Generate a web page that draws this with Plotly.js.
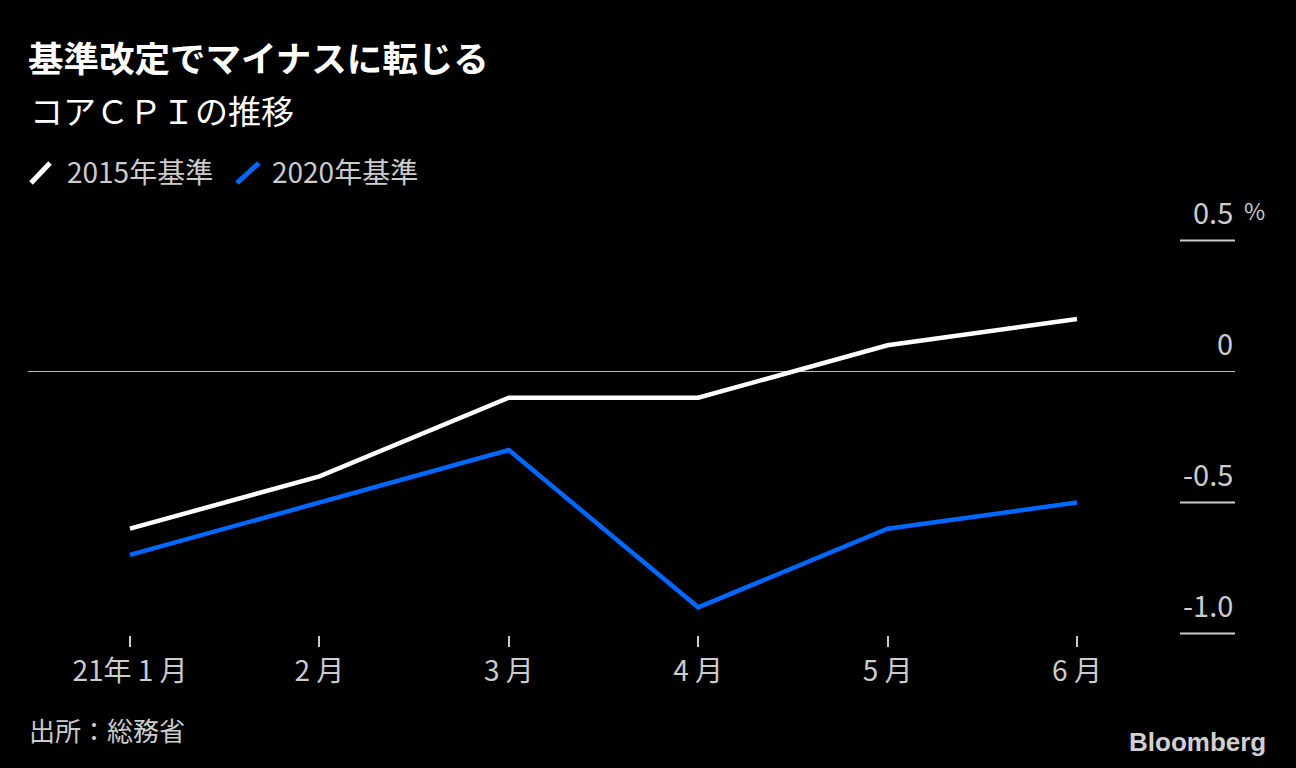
<!DOCTYPE html>
<html>
<head>
<meta charset="utf-8">
<script src="https://cdn.plot.ly/plotly-3.0.1.min.js"></script>
<style>
  html, body { margin: 0; padding: 0; background: #000; }
  #chart { width: 1296px; height: 768px; }
</style>
</head>
<body>
<div id="chart"></div>
<script>
// ---- data ----
const months = ['21年 1 月', '2 月', '3 月', '4 月', '5 月', '6 月'];
const base2015 = [-0.6, -0.4, -0.1, -0.1, 0.1, 0.2];
const base2020 = [-0.7, -0.5, -0.3, -0.9, -0.6, -0.5];
const seriesNames = ['2015年基準', '2020年基準'];
const yTickValues = [0.5, 0, -0.5, -1.0];
const yTickLabels = ['0.5', '0', '-0.5', '-1.0'];
const yUnit = '%';
const titleText = '基準改定でマイナスに転じる';
const subtitleText = 'コアＣＰＩの推移';
const sourceText = '出所：総務省';
const logoText = 'Bloomberg';

// ---- layout helpers ----
const W = 1296, H = 768;
const M = { l: 28, r: 61, t: 200, b: 133 };
const PW = W - M.l - M.r, PH = H - M.t - M.b;
const px = x => (x - M.l) / PW;
const py = y => (H - M.b - y) / PH;

const FONT = '"Noto Sans CJK JP", "Noto Sans", sans-serif';
const white = '#ffffff';
const blue = '#0068ff';
const grey = '#cccccc';
const colors = [white, blue];

const traces = [base2015, base2020].map((vals, i) => ({
  type: 'scatter', mode: 'lines',
  x: months, y: vals, name: seriesNames[i],
  line: { color: colors[i], width: 4.5 },
  hoverinfo: 'skip', showlegend: false
}));

const shapes = [];
const annotations = [];

// y tick short lines + labels (zero uses the zero line)
yTickValues.forEach((v, i) => {
  if (v !== 0) {
    shapes.push({ type: 'line', xref: 'paper', yref: 'y', x0: px(1180), x1: 1, y0: v, y1: v,
      line: { color: grey, width: 2 } });
  }
  annotations.push({ xref: 'paper', yref: 'y', x: 1, y: v, yshift: 30,
    xanchor: 'right', yanchor: 'middle', showarrow: false, text: yTickLabels[i],
    font: { family: FONT, size: 29, color: grey } });
});
annotations.push({ xref: 'paper', yref: 'y', x: px(1242), y: yTickValues[0], yshift: 31,
  xanchor: 'left', yanchor: 'middle', showarrow: false, text: yUnit,
  font: { family: FONT, size: 23, color: grey } });

// legend (custom, diagonal line icons)
const legendIcons = [[31, 50], [237, 259]];
const legendTextX = [65, 270];
seriesNames.forEach((name, i) => {
  shapes.push({ type: 'line', xref: 'paper', yref: 'paper',
    x0: px(legendIcons[i][0]), x1: px(legendIcons[i][1]), y0: py(183), y1: py(163),
    line: { color: colors[i], width: 5 } });
  annotations.push({ xref: 'paper', yref: 'paper', x: px(legendTextX[i]), y: py(171),
    xanchor: 'left', yanchor: 'middle', showarrow: false, text: name,
    font: { family: FONT, size: 28, color: grey } });
});

// subtitle, source, logo
annotations.push({ xref: 'paper', yref: 'paper', x: px(28), y: py(110),
  xanchor: 'left', yanchor: 'middle', showarrow: false, text: subtitleText,
  font: { family: FONT, size: 33, color: white } });
annotations.push({ xref: 'paper', yref: 'paper', x: px(27), y: py(729),
  xanchor: 'left', yanchor: 'middle', showarrow: false, text: sourceText,
  font: { family: FONT, size: 26, color: grey } });
annotations.push({ xref: 'paper', yref: 'paper', x: px(1268), y: py(742),
  xanchor: 'right', yanchor: 'middle', showarrow: false, text: logoText,
  font: { family: '"Liberation Sans", Arial, sans-serif', size: 26, color: '#d0d0d0', weight: 700 } });

const layout = {
  width: W, height: H,
  paper_bgcolor: '#000', plot_bgcolor: '#000',
  margin: M,
  showlegend: false,
  title: {
    text: '<b>' + titleText + '</b>',
    xref: 'container', yref: 'container', x: 28 / W, y: 1 - 60 / H,
    xanchor: 'left', yanchor: 'middle',
    font: { family: FONT, size: 35.5, color: white }
  },
  xaxis: {
    type: 'category',
    range: [-(130 - 28) / 189.4, 5 + (1235 - 1077) / 189.4],
    showgrid: false, zeroline: false, showline: false,
    ticks: 'outside', ticklen: 11, tickwidth: 2, tickcolor: grey,
    tickfont: { family: FONT, size: 28, color: grey },
    fixedrange: true
  },
  yaxis: {
    range: [(371.5 - 635) / 262, (371.5 - 200) / 262],
    showgrid: false, showticklabels: false, ticks: '', showline: false,
    zeroline: true, zerolinecolor: '#bbbbbb', zerolinewidth: 1.5,
    fixedrange: true
  },
  shapes: shapes,
  annotations: annotations
};

Plotly.newPlot('chart', traces, layout, { staticPlot: true, displayModeBar: false });
</script>
</body>
</html>
